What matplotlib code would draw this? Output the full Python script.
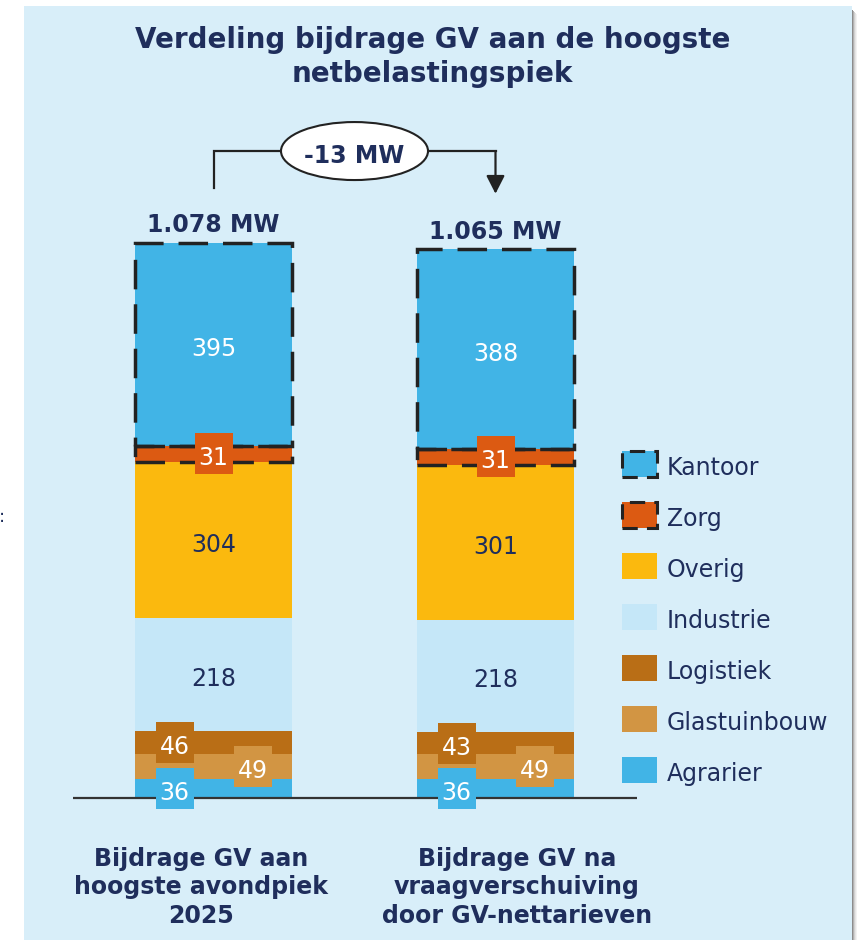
import matplotlib
matplotlib.use('Agg')
import matplotlib.pyplot as plt
from matplotlib.patches import Rectangle, Ellipse
from matplotlib.transforms import blended_transform_factory

# ---------------- data ----------------
categories = ['Agrarier', 'Glastuinbouw', 'Logistiek', 'Industrie', 'Overig', 'Zorg', 'Kantoor']  # bottom -> top
values_2025 = [36, 49, 46, 218, 304, 31, 395]
values_na = [36, 49, 43, 218, 301, 31, 388]
totals = [1078, 1065]
bar_names = [['Bijdrage GV aan', 'hoogste avondpiek', '2025'],
             ['Bijdrage GV na', 'vraagverschuiving', 'door GV-nettarieven']]
legend_order = ['Kantoor', 'Zorg', 'Overig', 'Industrie', 'Logistiek', 'Glastuinbouw', 'Agrarier']
title_lines = ['Verdeling bijdrage GV aan de hoogste', 'netbelastingspiek']

# ---------------- style ----------------
colors = {'Agrarier': '#41B4E6', 'Glastuinbouw': '#D29543', 'Logistiek': '#B96E16',
          'Industrie': '#C5E7F8', 'Overig': '#FBB90E', 'Zorg': '#DC5A12', 'Kantoor': '#41B4E6'}
# label style: (boxed?, horizontal offset side, text colour)
label_style = {'Agrarier': (True, -1, 'white'), 'Glastuinbouw': (True, 1, 'white'),
               'Logistiek': (True, -1, 'white'), 'Industrie': (False, 0, '#1F2E5C'),
               'Overig': (False, 0, '#1F2E5C'), 'Zorg': (True, 0, 'white'),
               'Kantoor': (False, 0, 'white')}
dashed = {'Kantoor', 'Zorg'}
BG = '#D8EEF9'
NAVY = '#1F2E5C'
DARK = '#222222'

W, H = 861, 940
X0_PX, UNIT_PX, BASE_PX, MW_PX = 213.5, 282.0, 798.0, 0.5148
NAME_DX_PX = [-12.5, 21.5]   # horizontal shift of category captions

fig = plt.figure(figsize=(W / 100, H / 100), dpi=100, facecolor='white')
ax = fig.add_axes([0, 0, 1, 1])
ax.set_axis_off()
ax.set_xlim(-X0_PX / UNIT_PX, (W - X0_PX) / UNIT_PX)
ax.set_ylim(-(H - BASE_PX) / MW_PX, BASE_PX / MW_PX)


def fx(px):
    return px / W


def fy(py):
    return 1 - py / H


# panel background + shadow
ax.add_patch(Rectangle((fx(24), 0), fx(852) - fx(24), fy(6), transform=fig.transFigure,
                       facecolor=BG, edgecolor='none', zorder=0, clip_on=False))
for i, a in enumerate([0.45, 0.3, 0.18, 0.1, 0.05]):
    ax.add_patch(Rectangle((fx(852 + i), 0), 1 / W, fy(10 + i), transform=fig.transFigure,
                           facecolor='black', alpha=a, edgecolor='none', zorder=0, clip_on=False))

BW = 157 / UNIT_PX
BOX_W = 38 / UNIT_PX
BOX_H = 41 / MW_PX
BOX_DX = 39 / UNIT_PX
xpos = [0, 1]

for xp, vals in zip(xpos, [values_2025, values_na]):
    bottom = 0
    for cat, v in zip(categories, vals):
        ax.bar(xp, v, bottom=bottom, width=BW, color=colors[cat], linewidth=0, zorder=2)
        if cat in dashed:
            ax.add_patch(Rectangle((xp - BW / 2, bottom), BW, v, fill=False, edgecolor=DARK,
                                   lw=2.5, linestyle=(0, (8.5, 4.3)), zorder=3))
        boxed, side, tcol = label_style[cat]
        cx = xp + side * BOX_DX
        cy = bottom + v / 2
        if boxed:
            ax.add_patch(Rectangle((cx - BOX_W / 2, cy - BOX_H / 2), BOX_W, BOX_H,
                                   facecolor=colors[cat], edgecolor='none', zorder=5))
        ax.text(cx, cy - 2 / MW_PX, str(v), ha='center', va='center_baseline', fontsize=17,
                color=tcol, zorder=6)
        bottom += v

# baseline
ax.plot([(73 - X0_PX) / UNIT_PX, (637 - X0_PX) / UNIT_PX], [0, 0], color='#333333', lw=1.6, zorder=4,
        solid_capstyle='butt')

# totals
for xp, t in zip(xpos, totals):
    ax.text(xp, t + 11 / MW_PX, f'{t:,}'.replace(',', '.') + ' MW', ha='center', va='baseline',
            fontsize=17, weight='bold', color=NAVY, zorder=6)

# difference annotation
delta = totals[1] - totals[0]
y_line = max(totals) + 92 / MW_PX
y_left = totals[0] + 55 / MW_PX
y_tip = totals[1] + 56 / MW_PX
ax.plot([xpos[0], xpos[0], xpos[1]], [y_left, y_line, y_line], color=DARK, lw=1.6, zorder=4,
        solid_joinstyle='miter')
ax.annotate('', xy=(xpos[1], y_tip), xytext=(xpos[1], y_line),
            arrowprops=dict(arrowstyle='-|>,head_length=0.55,head_width=0.28', color=DARK, lw=1.6,
                            mutation_scale=20, shrinkA=0, shrinkB=0), zorder=4)
xm = (xpos[0] + xpos[1]) / 2
ax.add_patch(Ellipse((xm, y_line), 147 / UNIT_PX, 58 / MW_PX, facecolor='white', edgecolor=DARK,
                     lw=1.5, zorder=5))
ax.text(xm, y_line - 12 / MW_PX, f'{delta} MW', ha='center', va='baseline', fontsize=17,
        weight='bold', color=NAVY, zorder=6)

# title
fig.text(fx(432.5), fy(48.3), title_lines[0], ha='center', va='baseline', fontsize=20,
         weight='bold', color=NAVY)
fig.text(fx(432.5), fy(81.7), title_lines[1], ha='center', va='baseline', fontsize=20,
         weight='bold', color=NAVY)

# category labels
tr = blended_transform_factory(ax.transData, fig.transFigure)
for xp, dx, lines in zip(xpos, NAME_DX_PX, bar_names):
    for k, line in enumerate(lines):
        ax.text(xp + dx / UNIT_PX, fy(866 + 28.3 * k), line, transform=tr, ha='center',
                va='baseline', fontsize=17, weight='bold', color=NAVY)

# legend
for i, cat in enumerate(legend_order):
    cy = 464 + 51 * i
    ax.add_patch(Rectangle((fx(621.5), fy(cy + 13)), 35 / W, 26 / H, transform=fig.transFigure,
                           facecolor=colors[cat], edgecolor='none', zorder=3, clip_on=False))
    if cat in dashed:
        ax.add_patch(Rectangle((fx(621.5), fy(cy + 13)), 35 / W, 26 / H, transform=fig.transFigure,
                               fill=False, edgecolor=DARK, lw=2.2, linestyle=(0, (5, 3)),
                               zorder=4, clip_on=False))
    fig.text(fx(667), fy(cy + 11), cat, ha='left', va='baseline', fontsize=17, color=NAVY)

# fragment of text at the left edge
fig.text(fx(-1), fy(517), ':', ha='left', va='center', fontsize=13, color=NAVY)

fig.savefig('out.png', dpi=100, facecolor='white')
